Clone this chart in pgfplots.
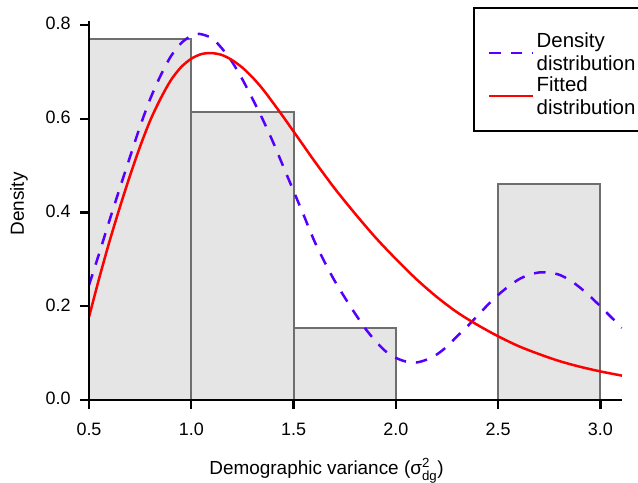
\documentclass[border=0pt]{standalone}
\usepackage{fontspec}
\setmainfont{Liberation Sans}
\usepackage{amsmath}
\usepackage{pgfplots}
\pgfplotsset{compat=1.18}
\definecolor{densblue}{RGB}{85,0,255}
\definecolor{barfill}{RGB}{229,229,229}
\definecolor{baredge}{RGB}{110,110,110}
\begin{document}
\begin{tikzpicture}
\begin{axis}[
  scale only axis, width=533bp, height=379bp,
  xmin=0.5, xmax=3.106, ymin=0, ymax=0.8085,
  axis x line=bottom, axis y line=left,
  axis line style={-, line width=2.4bp, black},
  axis on top,
  xtick={0.5,1.0,1.5,2.0,2.5,3.0}, ytick={0,0.2,0.4,0.6,0.8},
  tick align=outside, major tick length=9bp,
  every tick/.style={black, line width=2.4bp},
  typeset ticklabels with strut,
  /pgf/number format/assume math mode=true,
  xticklabel style={/pgf/number format/.cd, fixed, fixed zerofill, precision=1, /tikz/.cd, yshift=-9bp},
  yticklabel style={/pgf/number format/.cd, fixed, fixed zerofill, precision=1, /tikz/.cd, xshift=-6bp, yshift=-1bp},
  ticklabel style={font=\fontsize{18}{20}\selectfont},
  xlabel={Demographic variance ($\text{σ}^{\text{2}}_{\text{dg}}$)},
  ylabel={Density},
  every axis x label/.style={at={(axis description cs:0.4456,-0.1953)}, anchor=base, font=\fontsize{19}{22}\selectfont},
  every axis y label/.style={at={(axis description cs:-0.1313,0.517)}, rotate=90, anchor=center, font=\fontsize{19}{22}\selectfont},
  legend style={at={(axis description cs:0.7223,1.0211)}, anchor=north west,
    draw=none, fill=none, name=leg,
    font=\fontsize{20.5}{23}\selectfont,
    cells={anchor=west, align=left},
    inner xsep=14bp, inner ysep=18bp, row sep=0bp},
  legend image code/.code={\draw[#1] (0bp,0bp) -- (37bp,0bp); \path (0bp,0bp) -- (44bp,0bp);},
]
\addplot[ybar interval, fill=barfill, draw=baredge, line width=2bp, forget plot]
  coordinates {(0.5,0.7692) (1.0,0.6154) (1.5,0.1538) (2.0,0) (2.5,0.4615) (3.0,0.4615)};
\addplot[densblue, line width=2.5bp, dash pattern=on 11.5bp off 10bp, smooth, tension=0.5]
  coordinates {
  (0.50,0.245) (0.55,0.313) (0.60,0.383) (0.65,0.451) (0.70,0.518) (0.75,0.584)
  (0.80,0.643) (0.85,0.692) (0.90,0.733) (0.95,0.761) (1.00,0.777) (1.04,0.781)
  (1.10,0.772) (1.15,0.750) (1.20,0.721) (1.25,0.684) (1.30,0.642) (1.35,0.598)
  (1.40,0.550) (1.45,0.498) (1.50,0.446) (1.55,0.394) (1.60,0.341) (1.65,0.296)
  (1.70,0.255) (1.75,0.219) (1.80,0.185) (1.85,0.153) (1.90,0.126) (1.95,0.104)
  (2.00,0.090) (2.05,0.082) (2.10,0.080) (2.15,0.086) (2.20,0.097) (2.25,0.114)
  (2.30,0.136) (2.35,0.157) (2.40,0.180) (2.45,0.203) (2.50,0.224) (2.55,0.242)
  (2.60,0.257) (2.65,0.267) (2.70,0.272) (2.75,0.272) (2.80,0.267) (2.85,0.256)
  (2.90,0.240) (2.95,0.221) (3.00,0.200) (3.05,0.178) (3.106,0.154)};
\addlegendentry{Density\\distribution}
\addplot[red, line width=2.5bp, smooth, tension=0.5]
  coordinates {
  (0.50,0.177) (0.55,0.260) (0.60,0.338) (0.65,0.410) (0.70,0.478) (0.75,0.541)
  (0.80,0.597) (0.85,0.643) (0.90,0.682) (0.95,0.710) (1.00,0.728) (1.05,0.738)
  (1.10,0.740) (1.15,0.736) (1.20,0.725) (1.25,0.709) (1.30,0.688) (1.35,0.663)
  (1.40,0.634) (1.45,0.604) (1.50,0.573) (1.55,0.542) (1.60,0.511) (1.70,0.452)
  (1.80,0.398) (1.90,0.347) (2.00,0.301) (2.10,0.258) (2.20,0.220) (2.30,0.187)
  (2.40,0.160) (2.50,0.136) (2.60,0.115) (2.70,0.098) (2.80,0.083) (2.90,0.071)
  (3.00,0.061) (3.106,0.052)};
\addlegendentry{Fitted\\distribution}
\end{axis}
\draw[black, line width=2bp] ([yshift=5bp]leg.north west) rectangle ([yshift=5bp]leg.south east);
\pgfresetboundingbox
\useasboundingbox (-89bp,-83bp) rectangle (549bp,400bp);
\end{tikzpicture}
\end{document}
